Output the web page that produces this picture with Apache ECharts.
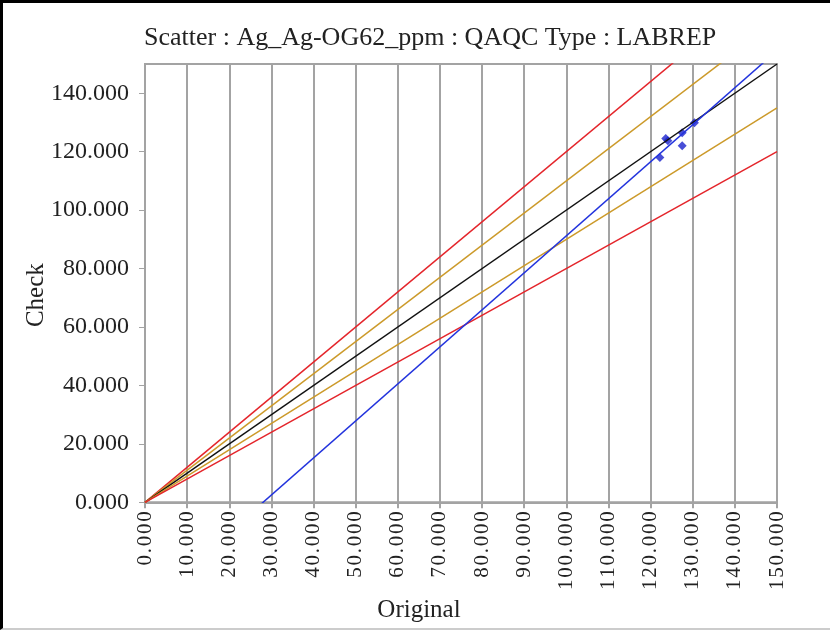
<!DOCTYPE html>
<html>
<head>
<meta charset="utf-8"/>
<title>Scatter QAQC</title>
<script src="https://cdn.jsdelivr.net/npm/echarts@6/dist/echarts.min.js"></script>
<style>
    html, body { margin: 0; padding: 0; background: #fff; }
    #main {
        width: 830px; height: 630px; box-sizing: border-box;
        border-left: 3px solid #000; border-top: 3px solid #000; border-bottom: 2px solid #ccc;
    }
</style>
</head>
<body>
<div id="main"></div>
<script>
// sample pairs
var originalVals = [122.2, 123.6, 124.1, 127.5, 127.5, 130.4];
var checkVals    = [118.0, 124.5, 123.7, 126.5, 122.0, 129.9];

// reference lines: +/-20%, +/-10% and 1:1
var guideSlopes = [1.2, 1.1, 1.0, 0.9, 0.8];
var guideColors = ['#e4252b', '#cc9a2a', '#111111', '#cc9a2a', '#e4252b'];

// fitted line (blue)
var regSlope = 1.267;
var regIntercept = -35.5;

var axisMin = 0, axisMax = 150;
var serif = 'Liberation Serif';
var gray = '#a3a3a3';

var chart = echarts.init(document.getElementById('main'));

var series = [];
guideSlopes.forEach(function (s, i) {
    series.push({
        type: 'line',
        data: [[axisMin, axisMin * s], [axisMax, axisMax * s]],
        symbol: 'none',
        lineStyle: {color: guideColors[i], width: 1.5},
        clip: true,
        silent: true
    });
});
series.push({
    type: 'line',
    data: [[axisMin, regSlope * axisMin + regIntercept], [axisMax, regSlope * axisMax + regIntercept]],
    symbol: 'none',
    lineStyle: {color: '#2233dd', width: 1.5},
    clip: true,
    silent: true
});
series.push({
    type: 'scatter',
    data: originalVals.map(function (x, i) { return [x, checkVals[i]]; }),
    symbol: 'diamond',
    symbolSize: 9,
    itemStyle: {color: '#1a22cc'}
});

chart.setOption({
    animation: false,
    title: {
        text: 'Scatter : Ag_Ag-OG62_ppm : QAQC Type : LABREP',
        left: 136,
        top: 17,
        textStyle: {fontFamily: serif, fontSize: 26, fontWeight: 'normal', color: '#222'}
    },
    grid: {
        left: 142, right: 53, top: 61, bottom: 119,
        show: true, borderColor: gray, borderWidth: 2
    },
    xAxis: {
        type: 'value',
        min: axisMin, max: axisMax, interval: 10,
        name: 'Original', nameLocation: 'middle', nameGap: 90,
        nameTextStyle: {fontFamily: serif, fontSize: 25, color: '#222', padding: [0, 84, 0, 0]},
        axisLine: {show: true, lineStyle: {color: gray, width: 2}},
        axisTick: {show: true, length: 6, lineStyle: {color: gray, width: 2}},
        splitLine: {show: true, lineStyle: {color: gray, width: 2}},
        axisLabel: {
            rotate: 90, margin: 9,
            fontFamily: serif, fontSize: 21, color: '#222',
            formatter: function (v) { return v.toFixed(3).split('').join('\u200A'); }
        }
    },
    yAxis: {
        type: 'value',
        min: axisMin, max: axisMax, interval: 20,
        name: 'Check', nameLocation: 'middle', nameGap: 96, nameMoveOverlap: false,
        nameTextStyle: {fontFamily: serif, fontSize: 25, color: '#222', padding: [0, 24, 0, 0]},
        axisLine: {show: true, lineStyle: {color: gray, width: 2}},
        axisTick: {show: true, length: 6, lineStyle: {color: gray, width: 1}},
        splitLine: {show: false},
        axisLabel: {
            margin: 16, showMaxLabel: false,
            fontFamily: serif, fontSize: 24, color: '#222',
            formatter: function (v) { return v.toFixed(3); }
        }
    },
    series: series
});

window.onresize = function () { chart.resize(); };
</script>
</body>
</html>
